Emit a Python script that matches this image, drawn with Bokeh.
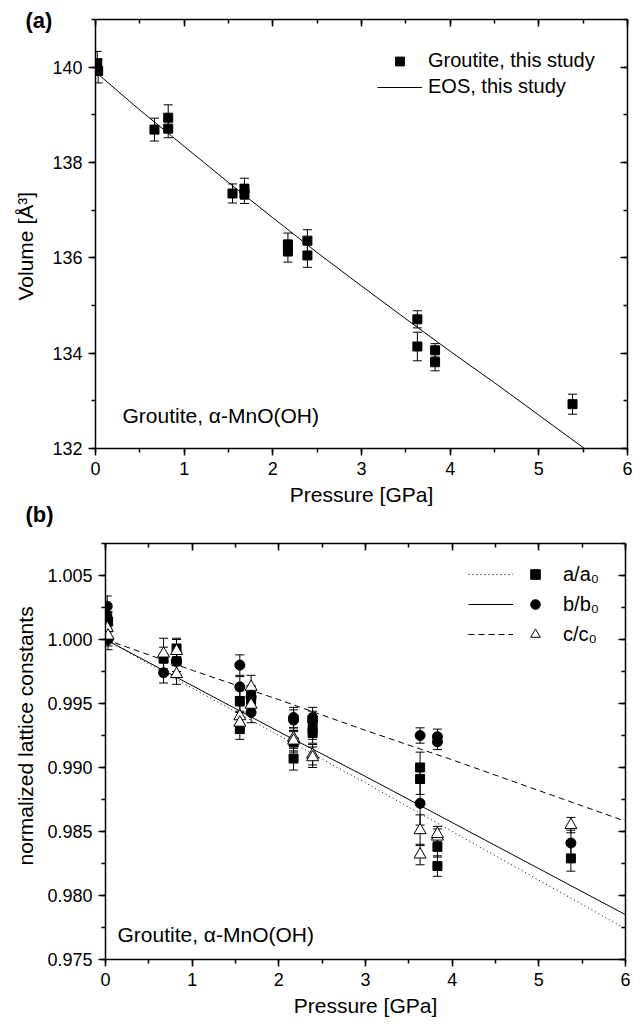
from bokeh.plotting import figure
from bokeh.models import (Range1d, LinearAxis, SingleIntervalTicker, PrintfTickFormatter,
                          ColumnDataSource, Whisker, TeeHead, Legend, LegendItem, Label, Title)
from bokeh.embed import file_html
from bokeh.resources import INLINE

FONT = "Liberation Sans"

# ---------------- Panel (a): unit-cell volume ----------------
pressure_a = [0.02, 0.03, 0.665, 0.82, 0.82, 1.545, 1.68, 1.68, 2.17, 2.17,
              2.39, 2.39, 3.63, 3.63, 3.83, 3.83, 5.38]
volume_a = [140.08, 139.92, 138.69, 138.94, 138.71, 137.35, 137.45, 137.34, 136.28, 136.14,
            136.36, 136.05, 134.71, 134.14, 134.06, 133.81, 132.93]
volume_err_a = [0.25, 0.25, 0.24, 0.27, 0.19, 0.20, 0.22, 0.20, 0.24, 0.23,
                0.23, 0.25, 0.18, 0.30, 0.14, 0.18, 0.21]

eos_pressure = [0.0, 0.5, 1.0, 1.5, 2.0, 2.5, 3.0, 3.5, 4.0, 4.5, 5.0, 5.5, 6.0]
eos_volume = [139.90, 139.10, 138.34, 137.58, 136.84, 136.11, 135.41, 134.72, 134.04,
              133.38, 132.70, 132.02, 131.40]

# ---------------- Panel (b): normalized lattice constants ----------------
pressure_b = [0.02, 0.03, 0.67, 0.82, 0.82, 1.55, 1.55, 1.68, 1.68, 2.17, 2.17,
              2.39, 2.39, 3.63, 3.63, 3.83, 3.83, 5.37]
a_norm = [1.0018, 1.0014, 0.9985, 0.9993, 0.9983, 0.9952, 0.9930, 0.9956, 0.9953, 0.9907, 0.9920,
          0.9930, 0.9927, 0.9900, 0.9891, 0.9838, 0.9823, 0.9829]
a_err = [0.0008, 0.0008, 0.0009, 0.0008, 0.0008, 0.0008, 0.0008, 0.0008, 0.0008, 0.0009, 0.0008,
         0.0008, 0.0008, 0.0012, 0.0012, 0.0008, 0.0008, 0.0010]
b_norm = [1.0026, 1.0000, 0.9974, 0.9983, 0.9983, 0.9980, 0.9963, 0.9955, 0.9943, 0.9939, 0.9937,
          0.9939, 0.9936, 0.9925, 0.9872, 0.9924, 0.9920, 0.9841]
b_err = [0.0008, 0.0008, 0.0008, 0.0008, 0.0008, 0.0008, 0.0008, 0.0008, 0.0008, 0.0008, 0.0008,
         0.0008, 0.0008, 0.0006, 0.0017, 0.0006, 0.0006, 0.0010]
c_norm = [1.0009, 1.0003, 0.9989, 0.9991, 0.9973, 0.9940, 0.9935, 0.9963, 0.9949, 0.9923, 0.9921,
          0.9910, 0.9908, 0.9851, 0.9832, 0.9846, 0.9848, 0.9855]
c_err = [0.0008, 0.0008, 0.0012, 0.0009, 0.0008, 0.0008, 0.0008, 0.0009, 0.0008, 0.0008, 0.0008,
         0.0008, 0.0008, 0.0012, 0.0008, 0.0006, 0.0006, 0.0006]

fit_pressure = [0, 1, 2, 3, 4, 5, 6]
a_fit = [1.0000, 0.9962, 0.9925, 0.9888, 0.9850, 0.9812, 0.9774]
b_fit = [1.0000, 0.9964, 0.9928, 0.9893, 0.9857, 0.9821, 0.9785]
c_fit = [1.0000, 0.9976, 0.9953, 0.9929, 0.9906, 0.9882, 0.9858]


def style_axis(ax, interval, fmt, inner, show_labels):
    ax.ticker = SingleIntervalTicker(interval=interval, num_minor_ticks=2)
    ax.formatter = PrintfTickFormatter(format=fmt)
    ax.axis_line_width = 1.5
    ax.axis_line_color = "black"
    ax.major_tick_line_width = 1.5
    ax.minor_tick_line_width = 1.5
    ax.major_tick_line_color = "black"
    ax.minor_tick_line_color = "black"
    if inner:
        ax.major_tick_in, ax.major_tick_out = 7, 0
        ax.minor_tick_in, ax.minor_tick_out = 4, 0
    else:
        ax.major_tick_in, ax.major_tick_out = 0, 7
        ax.minor_tick_in, ax.minor_tick_out = 0, 4
    ax.major_label_text_font = FONT
    if show_labels:
        ax.major_label_text_color = "black"
        ax.major_label_text_font_size = "18px"
        ax.major_label_standoff = 6
    else:
        ax.major_label_text_color = None
        ax.major_label_text_font_size = "0px"
        ax.major_label_standoff = 0
    ax.axis_label_text_font = FONT
    ax.axis_label_text_font_size = "21px"
    ax.axis_label_text_font_style = "normal"
    ax.axis_label_text_color = "black"


def make_fig(xr, yr, y_interval, y_fmt, xlabel, fw, fh, bl, br, bt, bb):
    p = figure(frame_width=fw, frame_height=fh, x_range=xr, y_range=yr,
               min_border_left=bl, min_border_right=br, min_border_top=bt, min_border_bottom=bb,
               output_backend="svg", toolbar_location=None)
    p.xgrid.visible = False
    p.ygrid.visible = False
    p.outline_line_color = None
    p.background_fill_color = "white"
    p.border_fill_color = "white"
    style_axis(p.xaxis[0], 1, "%d", False, True)
    style_axis(p.yaxis[0], y_interval, y_fmt, False, True)
    p.xaxis[0].axis_label = xlabel
    top = LinearAxis()
    style_axis(top, 1, "%d", True, False)
    right = LinearAxis()
    style_axis(right, y_interval, y_fmt, True, False)
    p.add_layout(top, "above")
    p.add_layout(right, "right")
    return p


def y_title(text, offset, standoff):
    # vertical axis title, placed left of the tick labels
    return Title(text=text, align="left", offset=offset, vertical_align="top", standoff=standoff,
                 text_font=FONT, text_font_size="21px", text_font_style="normal",
                 text_color="black")


def add_errors(p, x, y, err):
    src = ColumnDataSource(dict(x=x, lo=[v - e for v, e in zip(y, err)],
                                hi=[v + e for v, e in zip(y, err)]))
    w = Whisker(source=src, base="x", lower="lo", upper="hi", dimension="height",
                line_color="black", line_width=1,
                upper_head=TeeHead(size=9, line_color="black", line_width=1),
                lower_head=TeeHead(size=9, line_color="black", line_width=1))
    p.add_layout(w)


def panel_tag(text, valign, standoff):
    return Title(text=text, align="left", offset=-70, vertical_align=valign, standoff=standoff,
                 text_font=FONT, text_font_size="22px", text_font_style="bold",
                 text_color="black")


# ---------- figure (a) ----------
pa = make_fig(Range1d(0, 6), Range1d(132, 141), 2, "%d", "Pressure [GPa]",
              532, 429, 95, 12, 19, 81)
pa.xaxis[0].axis_label_standoff = 20
add_errors(pa, pressure_a, volume_a, volume_err_a)
eos_line = pa.line(eos_pressure, eos_volume, line_color="black", line_width=1)
sq_a = pa.scatter(pressure_a, volume_a, marker="square", size=9,
                  fill_color="black", line_color="black")
leg_a = Legend(items=[LegendItem(label="Groutite, this study", renderers=[sq_a]),
                      LegendItem(label="EOS, this study", renderers=[eos_line])],
               location=(282, 350), glyph_width=45, glyph_height=22, label_height=22,
               spacing=3, label_standoff=6, padding=0, margin=0,
               border_line_color=None, background_fill_alpha=0,
               label_text_font=FONT, label_text_font_size="20px", label_text_color="black")
pa.add_layout(leg_a)
pa.add_layout(Label(x=27, y=33, x_units="screen", y_units="screen", text="Groutite, α-MnO(OH)",
                    text_font=FONT, text_font_size="21px", text_color="black",
                    text_align="left", text_baseline="middle"))
pa.add_layout(y_title("Volume [Å³]", 148, 22), "left")
pa.add_layout(panel_tag("(a)", "bottom", -26), "above")
pa.add_layout(panel_tag("(b)", "top", -14), "below")

# ---------- figure (b) ----------
pb = make_fig(Range1d(0, 6), Range1d(0.975, 1.0075), 0.005, "%.3f", "Pressure [GPa]",
              520, 416, 105, 14, 14, 64)
pb.xaxis[0].major_label_standoff = 8
pb.xaxis[0].axis_label_standoff = 16
la = pb.line(fit_pressure, a_fit, line_color="black", line_width=1, line_dash="1 3")
lb = pb.line(fit_pressure, b_fit, line_color="black", line_width=1)
lc = pb.line(fit_pressure, c_fit, line_color="black", line_width=1, line_dash="6 4")
add_errors(pb, pressure_b, a_norm, a_err)
add_errors(pb, pressure_b, b_norm, b_err)
add_errors(pb, pressure_b, c_norm, c_err)
sq_b = pb.scatter(pressure_b, a_norm, marker="square", size=9,
                  fill_color="black", line_color="black")
ci_b = pb.scatter(pressure_b, b_norm, marker="circle", size=10,
                  fill_color="black", line_color="black")
tr_b = pb.scatter(pressure_b, c_norm, marker="triangle", size=12,
                  fill_color="white", line_color="black", line_width=1)
leg_lines = Legend(items=[LegendItem(label=" ", renderers=[la]),
                          LegendItem(label=" ", renderers=[lb]),
                          LegendItem(label=" ", renderers=[lc])],
                   location=(363, 313), glyph_width=45, glyph_height=24, label_height=24,
                   spacing=6, label_standoff=0, padding=0, margin=0,
                   border_line_color=None, background_fill_alpha=0,
                   label_text_font=FONT, label_text_font_size="20px")
leg_marks = Legend(items=[LegendItem(label="a/a₀", renderers=[sq_b]),
                          LegendItem(label="b/b₀", renderers=[ci_b]),
                          LegendItem(label="c/c₀", renderers=[tr_b])],
                   location=(418, 313), glyph_width=24, glyph_height=24, label_height=24,
                   spacing=6, label_standoff=16, padding=0, margin=0,
                   border_line_color=None, background_fill_alpha=0,
                   label_text_font=FONT, label_text_font_size="20px", label_text_color="black")
pb.add_layout(leg_lines)
pb.add_layout(leg_marks)
pb.add_layout(Label(x=12, y=25, x_units="screen", y_units="screen", text="Groutite, α-MnO(OH)",
                    text_font=FONT, text_font_size="21px", text_color="black",
                    text_align="left", text_baseline="middle"))
pb.add_layout(y_title("normalized lattice constants", 94, 11), "left")

open("out.html", "w").write(file_html([pa, pb], INLINE))
